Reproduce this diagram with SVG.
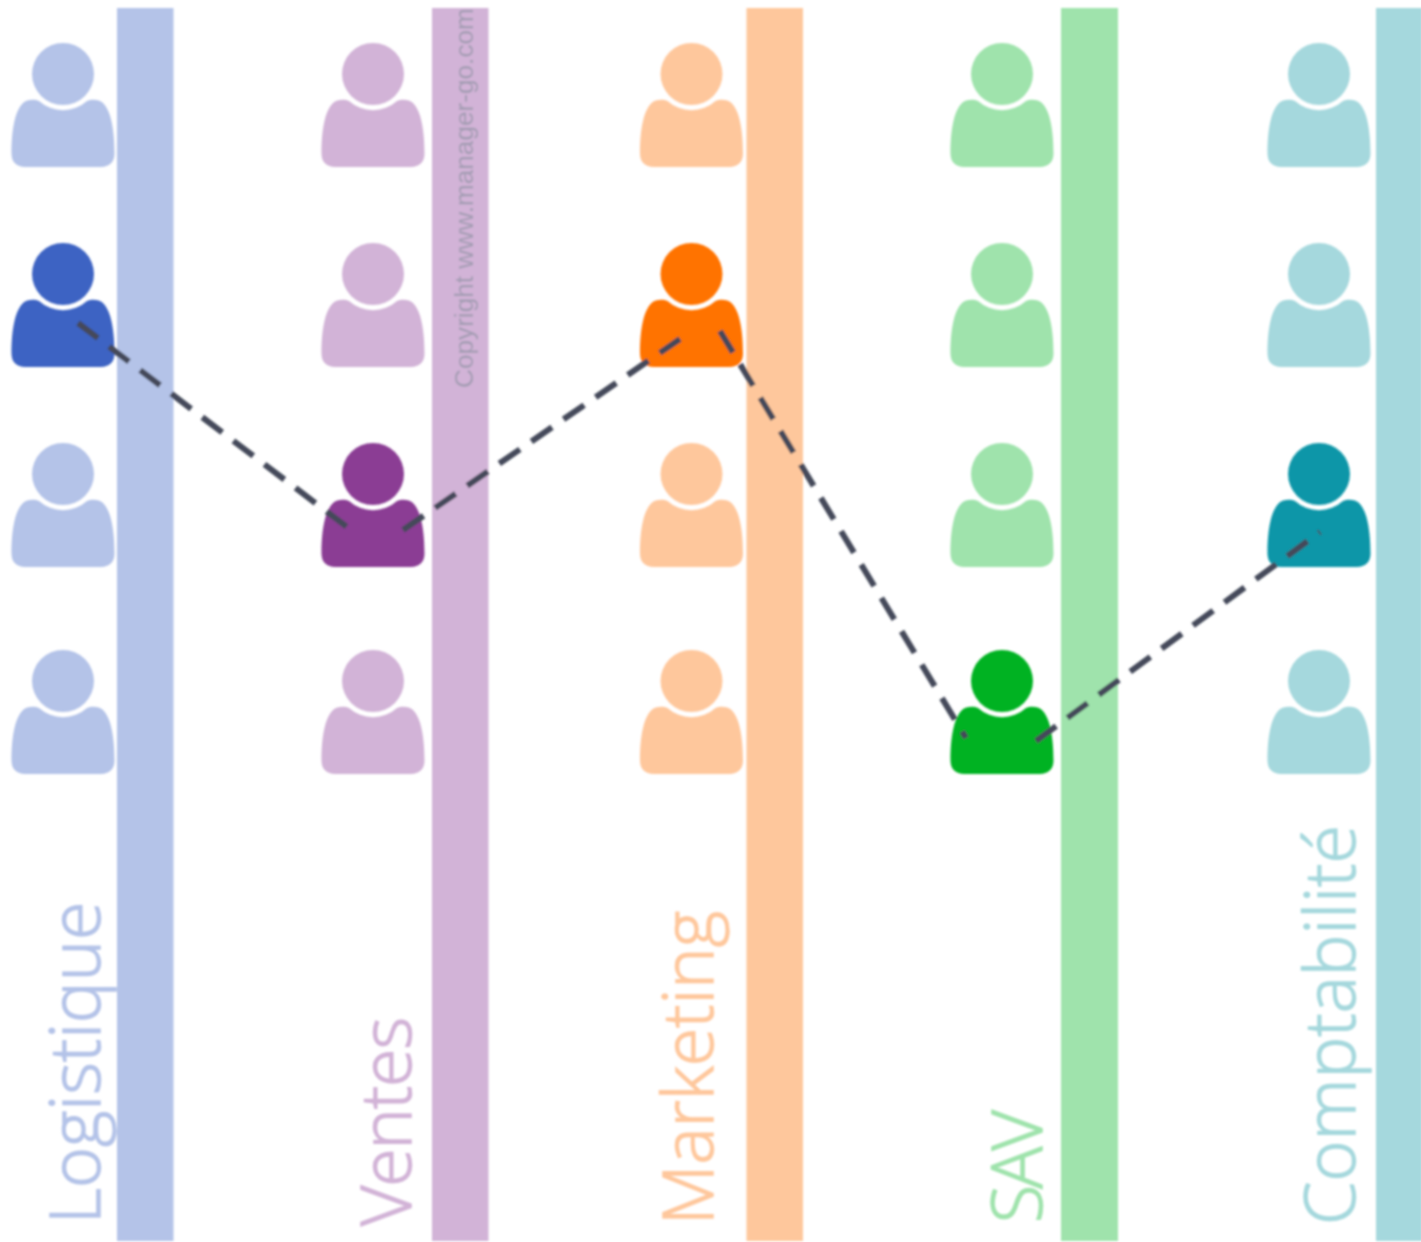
<svg xmlns="http://www.w3.org/2000/svg" width="1421" height="1242" viewBox="0 0 1421 1242">
<style>
.lbl{font-family:"Open Sans","Liberation Sans",sans-serif;font-weight:300;font-size:70px;stroke-width:1.300}
.copy{font-family:"Liberation Sans",Arial,sans-serif;font-size:26.200px;fill:#a29cb2}
.link{fill:none;stroke:#444a5a;stroke-width:6;stroke-dasharray:25 14}
</style>
<defs>
<filter id="soft" x="0" y="0" width="1421" height="1242" filterUnits="userSpaceOnUse"><feGaussianBlur stdDeviation="1"/></filter>
<g id="person"><circle cx="0" cy="0" r="31"/><path d="M-24 27A36 36 0 0 0 24 27C28 25 36 25 40 29C47 36 51.500 52 51.500 80C51.500 88 46 93 38 93L-38 93C-46 93-51.500 88-51.500 80C-51.500 52-47 36-40 29C-36 25-28 25-24 27Z"/></g>
</defs>
<rect width="1421" height="1242" fill="#fff"/>
<g filter="url(#soft)">
<g id="col-logistique" fill="#b4c3e8">
<rect x="117" y="8" width="56.500" height="1233"/>
<use href="#person" x="63" y="74"/><use href="#person" x="63" y="274" fill="#3c63c3"/><use href="#person" x="63" y="474"/><use href="#person" x="63" y="681"/>
<text class="lbl" stroke="#b4c3e8" transform="translate(100 1224) rotate(-90)">Logistique</text>
</g>
<g id="col-ventes" fill="#d2b3d7">
<rect x="432" y="8" width="56.500" height="1233"/>
<use href="#person" x="373" y="74"/><use href="#person" x="373" y="274"/><use href="#person" x="373" y="474" fill="#8b3e94"/><use href="#person" x="373" y="681"/>
<text class="lbl" stroke="#d2b3d7" textLength="209" transform="translate(411 1226) rotate(-90)">Ventes</text>
<text class="copy" transform="translate(473 388) rotate(-90)">Copyright www.manager-go.com</text>
</g>
<g id="col-marketing" fill="#fec79c">
<rect x="746.500" y="8" width="56.500" height="1233"/>
<use href="#person" x="691.500" y="74"/><use href="#person" x="691.500" y="274" fill="#ff7300"/><use href="#person" x="691.500" y="474"/><use href="#person" x="691.500" y="681"/>
<text class="lbl" stroke="#fec79c" transform="translate(713 1225) rotate(-90)">Marketing</text>
</g>
<g id="col-sav" fill="#9fe3ac">
<rect x="1061" y="8" width="57" height="1233"/>
<use href="#person" x="1002" y="74"/><use href="#person" x="1002" y="274"/><use href="#person" x="1002" y="474"/><use href="#person" x="1002" y="681" fill="#00b224"/>
<text class="lbl" stroke="#9fe3ac" textLength="113" transform="translate(1042 1223) rotate(-90)">SAV</text>
</g>
<g id="col-comptabilite" fill="#a5d8dd">
<rect x="1376" y="8" width="46" height="1233"/>
<use href="#person" x="1319" y="74"/><use href="#person" x="1319" y="274"/><use href="#person" x="1319" y="474" fill="#0d96a8"/><use href="#person" x="1319" y="681"/>
<text class="lbl" stroke="#a5d8dd" textLength="400" transform="translate(1355 1225) rotate(-90)">Comptabilité</text>
</g>
<g id="connectors">
<path class="link" d="M78 323L347 527"/>
<path class="link" d="M403 530L680 339"/>
<path class="link" d="M720 331L966 738"/>
<path class="link" d="M1036 741L1320 532"/>
</g>
</g>
</svg>
